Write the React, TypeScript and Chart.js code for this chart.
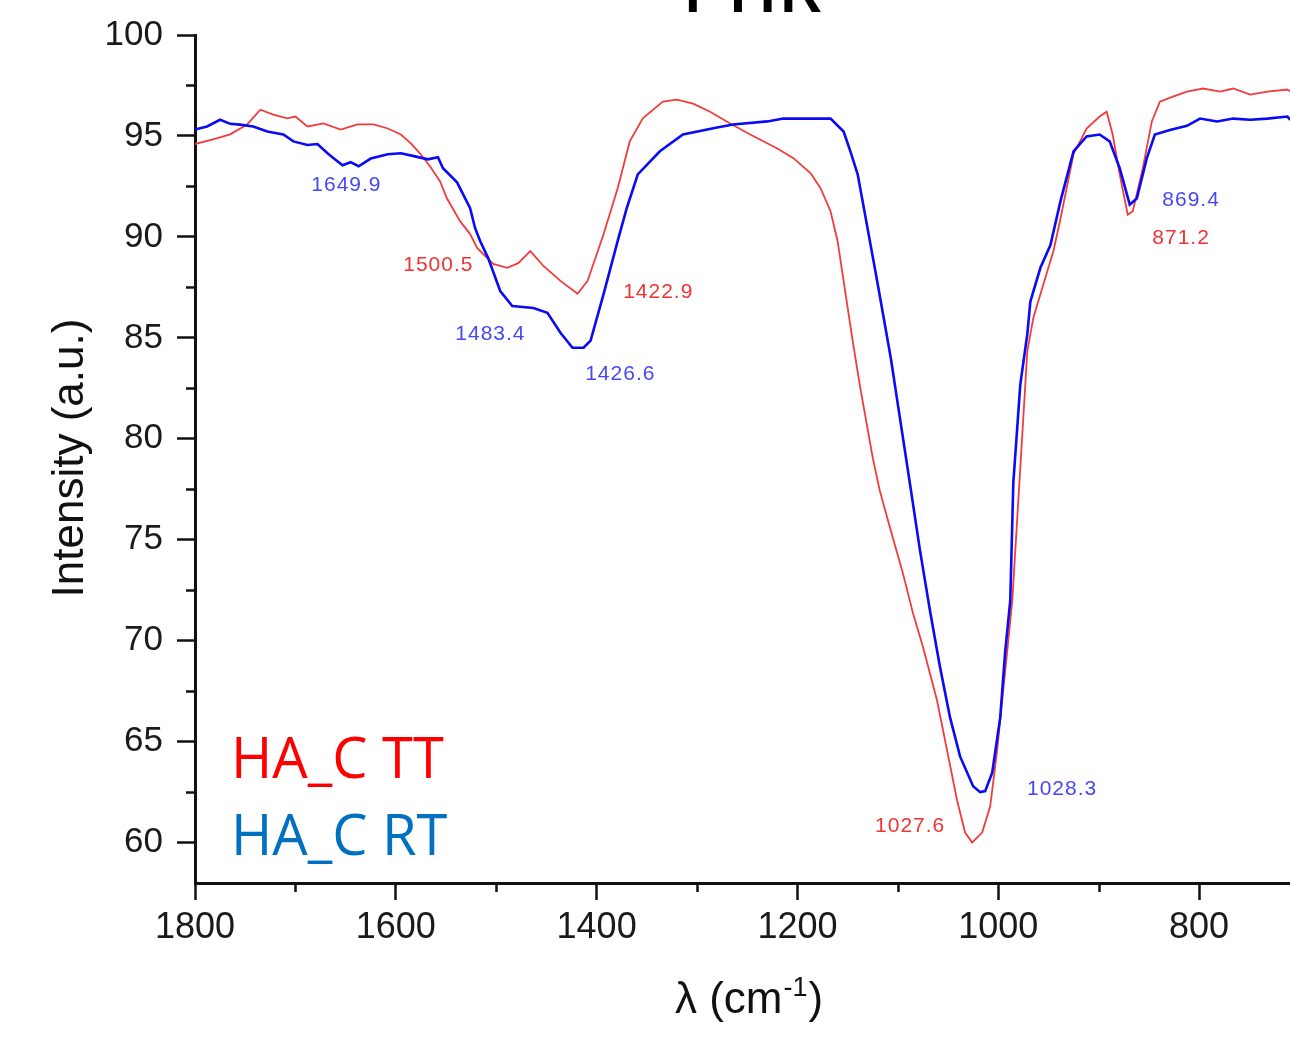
import React, { useEffect, useRef } from 'react';
import { Chart, registerables } from 'chart.js';

Chart.register(...registerables);

// ---------- data ----------
const rtWavenumbers = [1800,1788,1775,1765,1755,1742,1728,1712,1702,1688,1678,1668,1662,1653,1645,1637,1625,1608,1595,1582,1568,1558,1553,1539,1526,1521,1516,1508,1496,1484,1463,1449,1436,1424,1413,1406,1393,1379,1370,1359,1337,1314,1280,1264,1230,1214,1167,1154,1147,1140,1132,1120,1107,1098,1088,1078,1068,1058,1048,1038,1025,1018,1013,1006,998,993,988,985,978,971,968,958,948,938,925,912,899,889,879,869,862,852,844,829,812,799,782,766,749,732,712,709];
const rtIntensity = [95.32,95.47,95.8,95.6,95.56,95.47,95.22,95.07,94.73,94.55,94.6,94.14,93.9,93.55,93.7,93.5,93.88,94.09,94.14,94.0,93.84,93.95,93.4,92.7,91.42,90.43,89.8,88.95,87.32,86.58,86.48,86.24,85.25,84.51,84.51,84.86,87.18,89.8,91.42,93.1,94.24,95.07,95.42,95.57,95.72,95.86,95.86,95.22,94.2,93.1,90.93,87.65,84.0,81.06,77.8,74.5,71.5,68.7,66.2,64.27,62.79,62.5,62.55,63.46,66.2,69.5,72.0,77.8,82.7,85.2,86.8,88.47,89.6,91.77,94.24,94.98,95.07,94.73,93.4,91.6,91.9,93.9,95.07,95.3,95.5,95.86,95.72,95.86,95.8,95.86,95.96,95.8];

const ttWavenumbers = [1800,1782,1765,1748,1735,1722,1708,1700,1688,1672,1655,1638,1622,1608,1595,1585,1576,1566,1556,1549,1536,1526,1519,1503,1489,1478,1466,1453,1436,1419,1409,1393,1379,1367,1354,1334,1320,1304,1287,1267,1247,1220,1204,1187,1177,1167,1160,1151,1145,1138,1131,1125,1118,1108,1095,1085,1075,1061,1051,1041,1033,1026,1016,1008,1001,996,991,986,981,976,971,965,955,945,938,925,912,899,892,886,879,871,866,856,847,839,826,812,796,779,766,749,732,712,709];
const ttIntensity = [94.6,94.83,95.08,95.57,96.3,96.06,95.87,95.96,95.47,95.62,95.32,95.57,95.57,95.37,95.07,94.63,94.14,93.5,92.76,91.9,90.78,90.14,89.45,88.66,88.47,88.7,89.3,88.56,87.82,87.18,87.82,90.14,92.41,94.73,95.87,96.7,96.8,96.6,96.2,95.62,95.07,94.38,93.9,93.16,92.41,91.27,89.8,86.83,84.86,82.7,80.74,79.07,77.44,75.63,73.35,71.38,69.7,67.05,64.58,62.1,60.5,60.0,60.5,61.8,64.6,67.05,69.5,72.0,76.1,80.24,84.36,86.0,87.65,89.3,90.9,94.1,95.37,95.96,96.2,95.07,93.1,91.1,91.27,93.4,95.72,96.7,96.95,97.2,97.35,97.2,97.35,97.05,97.2,97.3,97.2];

const xMajorTicks = [1800, 1600, 1400, 1200, 1000, 800];
const xMinorTicks = [1700, 1500, 1300, 1100, 900];
const yMajorTicks = [60, 65, 70, 75, 80, 85, 90, 95, 100];
const yMinorTicks = [62.5, 67.5, 72.5, 77.5, 82.5, 87.5, 92.5, 97.5];

// peak annotations (text, anchor wavenumber, anchor intensity, series)
const peakTexts = ['1649.9', '1500.5', '1422.9', '1483.4', '1426.6', '869.4', '871.2', '1028.3', '1027.6'];
const peakAnchorX = [1649.2, 1557.6, 1338.6, 1505.8, 1376.4, 807.9, 817.9, 936.4, 1087.7];
const peakAnchorY = [92.56, 88.61, 87.27, 85.2, 83.22, 91.82, 89.94, 62.63, 60.8];
const peakSeries = ['RT', 'TT', 'TT', 'RT', 'RT', 'RT', 'TT', 'RT', 'TT'];

const seriesNames = ['HA_C RT', 'HA_C TT'];
const chartTitle = 'FTIR';
const yTitle = 'Intensity (a.u.)';

const W = 1290;
const H = 1042;
const SANS = "'Liberation Sans', Arial, sans-serif";

const decorPlugin = {
  id: 'ftirDecor',
  afterDraw(chart: any) {
    const { ctx, chartArea, scales } = chart;
    const xs = scales.x;
    const ys = scales.y;
    ctx.save();
    // minor ticks
    ctx.strokeStyle = '#111';
    ctx.lineWidth = 2.5;
    ctx.beginPath();
    xMinorTicks.forEach((v) => {
      const px = Math.round(xs.getPixelForValue(v)) + 0.5;
      ctx.moveTo(px, chartArea.bottom);
      ctx.lineTo(px, chartArea.bottom + 9);
    });
    yMinorTicks.forEach((v) => {
      const py = Math.round(ys.getPixelForValue(v)) + 0.5;
      ctx.moveTo(chartArea.left, py);
      ctx.lineTo(chartArea.left - 9, py);
    });
    ctx.stroke();

    // peak labels
    ctx.font = `21px ${SANS}`;
    (ctx as any).letterSpacing = '1px';
    ctx.textAlign = 'center';
    ctx.textBaseline = 'middle';
    peakTexts.forEach((t, i) => {
      ctx.fillStyle = peakSeries[i] === 'RT' ? '#4747F2' : '#EE3434';
      ctx.fillText(t, xs.getPixelForValue(peakAnchorX[i]), ys.getPixelForValue(peakAnchorY[i]));
    });
    (ctx as any).letterSpacing = '0px';

    // legend text
    ctx.textAlign = 'left';
    ctx.textBaseline = 'alphabetic';
    ctx.font = `56px 'Open Sans', 'Noto Sans', sans-serif`;
    ctx.fillStyle = '#FF0000';
    ctx.fillText(seriesNames[1], chartArea.left + 36, chartArea.bottom - 105);
    ctx.fillStyle = '#0070C0';
    ctx.fillText(seriesNames[0], chartArea.left + 36, chartArea.bottom - 28);

    // title (partially above the picture)
    ctx.fillStyle = '#000';
    ctx.textAlign = 'center';
    ctx.font = `600 68px 'Open Sans', 'Noto Sans', sans-serif`;
    ctx.fillText(chartTitle, 752, 12);

    // y title
    ctx.save();
    ctx.font = `44px ${SANS}`;
    ctx.fillStyle = '#111';
    ctx.translate(83, 458);
    ctx.rotate(-Math.PI / 2);
    ctx.textAlign = 'center';
    ctx.textBaseline = 'alphabetic';
    ctx.fillText(yTitle, 0, 0);
    ctx.restore();

    // x title with superscript
    const base = 1013;
    ctx.fillStyle = '#111';
    ctx.textBaseline = 'alphabetic';
    ctx.textAlign = 'left';
    const main1 = 'λ (cm';
    const sup = '-1';
    const main2 = ')';
    ctx.font = `44px ${SANS}`;
    const w1 = ctx.measureText(main1).width;
    const w3 = ctx.measureText(main2).width;
    ctx.font = `27px ${SANS}`;
    const w2 = ctx.measureText(sup).width;
    const total = w1 + w2 + w3 + 2;
    let x0 = 749 - total / 2;
    ctx.font = `44px ${SANS}`;
    ctx.fillText(main1, x0, base);
    ctx.font = `27px ${SANS}`;
    ctx.fillText(sup, x0 + w1 + 1, base - 17);
    ctx.font = `44px ${SANS}`;
    ctx.fillText(main2, x0 + w1 + w2 + 2, base);
    ctx.restore();
  },
};

export default function App() {
  const ref = useRef<HTMLCanvasElement>(null);
  useEffect(() => {
    document.body.style.margin = '0';
    const canvas = ref.current;
    if (!canvas) return;
    const chart = new Chart(canvas, {
      type: 'line',
      data: {
        datasets: [
          {
            label: seriesNames[0],
            data: rtWavenumbers.map((x, i) => ({ x, y: rtIntensity[i] })),
            borderColor: '#0A0AF5',
            borderWidth: 2.6,
            pointRadius: 0,
            tension: 0,
            fill: false,
          },
          {
            label: seriesNames[1],
            data: ttWavenumbers.map((x, i) => ({ x, y: ttIntensity[i] })),
            borderColor: '#F23C3C',
            borderWidth: 1.8,
            pointRadius: 0,
            tension: 0,
            fill: false,
          },
        ],
      },
      options: {
        responsive: false,
        animation: false,
        devicePixelRatio: 1,
        layout: { padding: { top: 33, right: 0, bottom: 0, left: 0 } },
        plugins: {
          legend: { display: false },
          tooltip: { enabled: false },
          title: { display: false },
        },
        events: [],
        scales: {
          x: {
            type: 'linear',
            reverse: true,
            min: 709.4,
            max: 1800,
            afterBuildTicks: (s: any) => {
              s.ticks = xMajorTicks.map((v) => ({ value: v }));
            },
            afterFit: (s: any) => {
              s.height = 159;
            },
            grid: {
              drawOnChartArea: false,
              drawTicks: true,
              tickLength: 17,
              tickWidth: 2.5,
              tickColor: '#111',
            },
            border: { display: true, color: '#111', width: 3 },
            ticks: {
              color: '#1a1a1a',
              font: { family: SANS, size: 36 },
              padding: 6,
              maxRotation: 0,
              autoSkip: false,
              callback: (v: any) => String(v),
            },
          },
          y: {
            type: 'linear',
            min: 58,
            max: 100,
            afterBuildTicks: (s: any) => {
              s.ticks = yMajorTicks.map((v) => ({ value: v }));
            },
            afterFit: (s: any) => {
              s.width = 195;
            },
            grid: {
              drawOnChartArea: false,
              drawTicks: true,
              tickLength: 18,
              tickWidth: 2.5,
              tickColor: '#111',
            },
            border: { display: true, color: '#111', width: 3 },
            ticks: {
              color: '#1a1a1a',
              font: { family: SANS, size: 35 },
              padding: 14,
              autoSkip: false,
              callback: (v: any) => String(v),
            },
          },
        },
      },
      plugins: [decorPlugin],
    } as any);
    return () => chart.destroy();
  }, []);
  return (
    <div style={{ position: 'fixed', left: 0, top: 0, width: W, height: H, background: '#fff' }}>
      <canvas ref={ref} width={W} height={H} style={{ display: 'block', width: W, height: H }} />
    </div>
  );
}
